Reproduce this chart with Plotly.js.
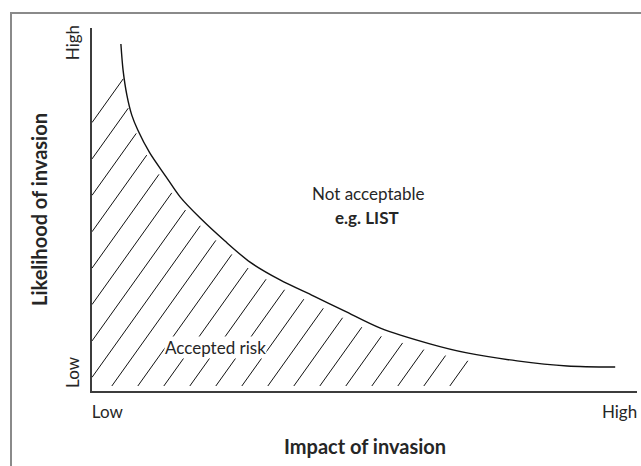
<!DOCTYPE html>
<html><head><meta charset="utf-8">
<script src="https://cdn.plot.ly/plotly-3.0.1.min.js"></script>
<style>html,body{margin:0;padding:0;background:#fff}</style>
</head><body><div id="chart" style="width:641px;height:466px"></div>
<script>
// Boundary curve between accepted risk and not acceptable (impact, likelihood on 0-10 scales)
const curveX = [0.53, 0.57, 0.64, 0.73, 0.84, 1.06, 1.36, 1.62, 1.98, 2.44, 2.90, 3.45, 4.06, 4.64, 5.28, 6.20, 6.88, 7.80, 8.72, 9.60];
const curveY = [9.56, 8.84, 8.15, 7.60, 7.19, 6.56, 5.90, 5.34, 4.77, 4.13, 3.55, 3.06, 2.62, 2.20, 1.74, 1.30, 1.05, 0.83, 0.69, 0.66];
const xTickVals = [0.28, 9.68];
const xTickText = ['Low', 'High'];
const yTickVals = [0.44, 9.53];
const yTickText = ['Low', 'High'];
const hatchEndX = 6.5;  // hatched area stops here along the impact axis
const hatchTopY = 7.47; // highest point where hatching meets the likelihood axis

const M = {l: 92, r: 4, t: 28, b: 75};
const FW = 641, FH = 466;
const W = FW - M.l - M.r, H = FH - M.t - M.b;
const pxX = W / 10, pxY = H / 10;

// Hatch lines, clipped between the axes and the curve
function curveV(u) {
  const x = u / pxX;
  if (x < curveX[0]) return Infinity;
  for (let i = 0; i < curveX.length - 1; i++) {
    if (x >= curveX[i] && x <= curveX[i + 1]) {
      const t = (x - curveX[i]) / (curveX[i + 1] - curveX[i]);
      return (curveY[i] + t * (curveY[i + 1] - curveY[i])) * pxY;
    }
  }
  return curveY[curveY.length - 1] * pxY;
}
const tanA = 1.4, spacing = 26, gapB = 5, gapT = 8;
const hx = [], hy = [];
for (let b = hatchEndX * pxX; b > -1000; b -= spacing) {
  let u0, v0;
  if (b >= 0) { u0 = b + gapB / tanA; v0 = gapB; }
  else { u0 = 0; v0 = -b * tanA; }
  if (v0 > hatchTopY * pxY + 2) break;
  if (v0 >= curveV(u0) - gapT) break;
  let u = u0;
  while ((u - b) * tanA < curveV(u) - gapT) u += 0.25;
  const v1 = (u - b) * tanA;
  hx.push(u0 / pxX, u / pxX, null);
  hy.push(v0 / pxY, v1 / pxY, null);
}

const font = 'Lato, "Open Sans", sans-serif';
const txt = '#262626';

const data = [
  {x: hx, y: hy, mode: 'lines', line: {color: '#111', width: 1}, hoverinfo: 'skip', showlegend: false},
  {x: curveX, y: curveY, mode: 'lines', line: {color: '#111', width: 1.4, shape: 'spline', smoothing: 0.8}, showlegend: false}
];

const layout = {
  width: FW, height: FH,
  margin: M,
  paper_bgcolor: '#fff', plot_bgcolor: '#fff',
  font: {family: font, size: 17, color: txt},
  showlegend: false,
  xaxis: {range: [0, 10], showgrid: false, zeroline: false, showline: true, linecolor: '#3c3c3c', linewidth: 2,
          tickvals: xTickVals, ticktext: xTickText, ticks: '', ticklabelstandoff: 5, fixedrange: true},
  yaxis: {range: [0, 10], showgrid: false, zeroline: false, showline: true, linecolor: '#3c3c3c', linewidth: 2,
          tickvals: yTickVals, ticktext: yTickText, ticks: '', tickangle: -90, ticklabelstandoff: 4, fixedrange: true},
  shapes: [
    {type: 'rect', xref: 'paper', yref: 'paper',
     x0: (11 - M.l) / W, x1: (FW + 20 - M.l) / W, y0: -0.4, y1: (M.t + H - 13) / H,
     line: {color: '#8a8a8a', width: 2}, fillcolor: 'rgba(0,0,0,0)'}
  ],
  annotations: [
    {x: 5.06, y: 5.45, xref: 'x', yref: 'y', text: 'Not acceptable', showarrow: false, font: {size: 17}, xanchor: 'center', yanchor: 'middle'},
    {x: 5.04, y: 4.77, xref: 'x', yref: 'y', text: '<b>e.g. LIST</b>', showarrow: false, font: {size: 17}, xanchor: 'center', yanchor: 'middle'},
    {x: 2.26, y: 1.21, xref: 'x', yref: 'y', text: 'Accepted risk', showarrow: false, font: {size: 17}, bgcolor: '#fff', borderpad: 0, xanchor: 'center', yanchor: 'middle'},
    {x: 0.5, y: (M.t + H - 446) / H, xref: 'paper', yref: 'paper', text: '<b>Impact of invasion</b>', showarrow: false, font: {size: 20}, xanchor: 'center', yanchor: 'middle'},
    {x: (38.5 - M.l) / W, y: 0.5, xref: 'paper', yref: 'paper', text: '<b>Likelihood of invasion</b>', showarrow: false, textangle: -90, font: {size: 20}, xanchor: 'center', yanchor: 'middle'}
  ]
};

Plotly.newPlot('chart', data, layout, {displayModeBar: false, staticPlot: true});
</script>
</body></html>
